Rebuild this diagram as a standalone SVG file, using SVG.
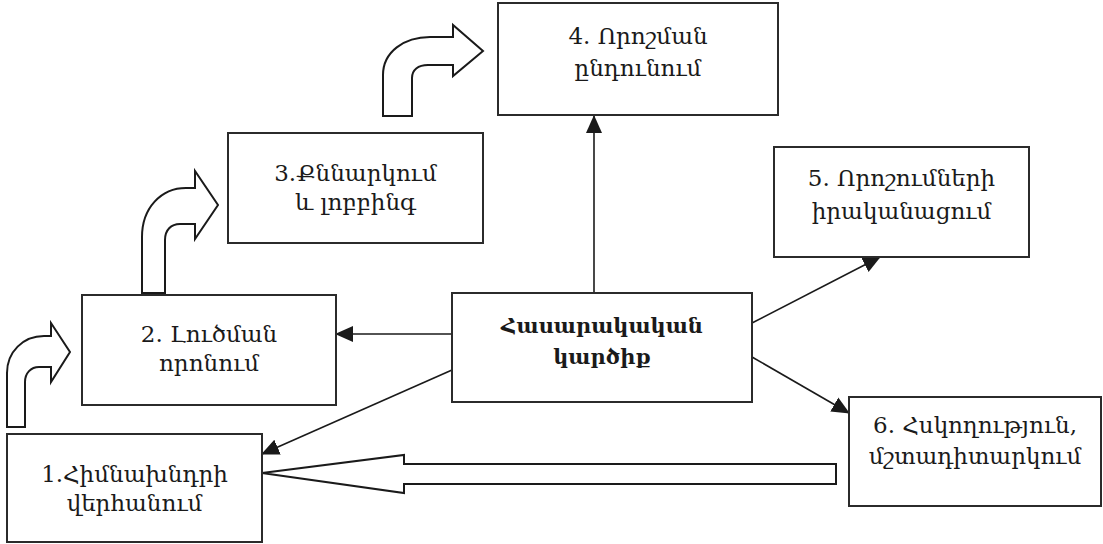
<svg xmlns="http://www.w3.org/2000/svg" width="1103" height="544" viewBox="0 0 1103 544">
<defs>
<marker id="ah" markerUnits="userSpaceOnUse" markerWidth="18" markerHeight="18" viewBox="0 0 18 18" refX="17" refY="9" orient="auto">
<path d="M0,1 L18,9 L0,17 Z" fill="#1a1a1a"/>
</marker>
</defs>
<style>
.box{fill:#fff;stroke:#2b2b2b;stroke-width:2}
.t{font-family:"DejaVu Serif","Noto Serif",serif;font-size:23px;fill:#1a1a1a;text-anchor:middle}
.b{font-weight:bold;font-size:21px}
.ln{stroke:#1a1a1a;stroke-width:1.6;fill:none;marker-end:url(#ah)}
.ba{fill:#fff;stroke:#1a1a1a;stroke-width:2;stroke-linejoin:miter}
</style>
<rect width="1103" height="544" fill="#fff"/>
<g id="connectors">
<line class="ln" x1="594" y1="293" x2="594" y2="116"/>
<line class="ln" x1="452" y1="334" x2="336" y2="334"/>
<line class="ln" x1="752" y1="323" x2="880" y2="257"/>
<line class="ln" x1="752" y1="357" x2="849" y2="413"/>
<line class="ln" x1="452" y1="370" x2="262" y2="454"/>
<path class="ba" d="M262,473 L404,455 L404,464 L836,464 L836,484 L404,484 L404,493 Z"/>
<path class="ba" d="M7,427 L7,373 C7,352 23,336 44,336 L51,336 L51,323 L70,352 L51,382 L51,367 L39,367 C31,367 25,373 25,382 L25,427 Z"/>
<path class="ba" d="M142,293 L142,237 C142,208 161,188 186,188 L195,188 L195,171 L218,205 L195,239 L195,224 L180,224 C171,224 165,230 165,240 L165,293 Z"/>
<path class="ba" d="M383,116 L383,75 C383,52 404,37 430,37 L453,37 L453,25 L483,51 L453,76 L453,65 L428,65 C418,65 412,70 412,78 L412,116 Z"/>
</g>
<g id="node1">
<rect class="box" x="7" y="434" width="255" height="108"/>
<text class="t" x="134.5" y="482">1.Հիմնախնդրի</text>
<text class="t" x="134.5" y="511">վերհանում</text>
</g>
<g id="node2">
<rect class="box" x="82" y="295" width="254" height="110"/>
<text class="t" x="209" y="342">2. Լուծման</text>
<text class="t" x="209" y="371">որոնում</text>
</g>
<g id="node3">
<rect class="box" x="228" y="133" width="255" height="110"/>
<text class="t" x="355.5" y="181">3.Քննարկում</text>
<text class="t" x="355.5" y="210">և լոբբինգ</text>
</g>
<g id="node4">
<rect class="box" x="498" y="3" width="280" height="112"/>
<text class="t" x="638" y="44">4. Որոշման</text>
<text class="t" x="638" y="76">ընդունում</text>
</g>
<g id="node5">
<rect class="box" x="774" y="147" width="255" height="110"/>
<text class="t" x="901.5" y="186">5. Որոշումների</text>
<text class="t" x="901.5" y="219">իրականացում</text>
</g>
<g id="node6">
<rect class="box" x="849" y="397" width="252" height="109"/>
<text class="t" x="975" y="433">6. Հսկողություն,</text>
<text class="t" x="975" y="464">մշտադիտարկում</text>
</g>
<g id="center">
<rect class="box" x="452" y="293" width="300" height="109"/>
<text class="t b" x="602" y="333">Հասարակական</text>
<text class="t b" x="602" y="364">կարծիք</text>
</g>
</svg>
